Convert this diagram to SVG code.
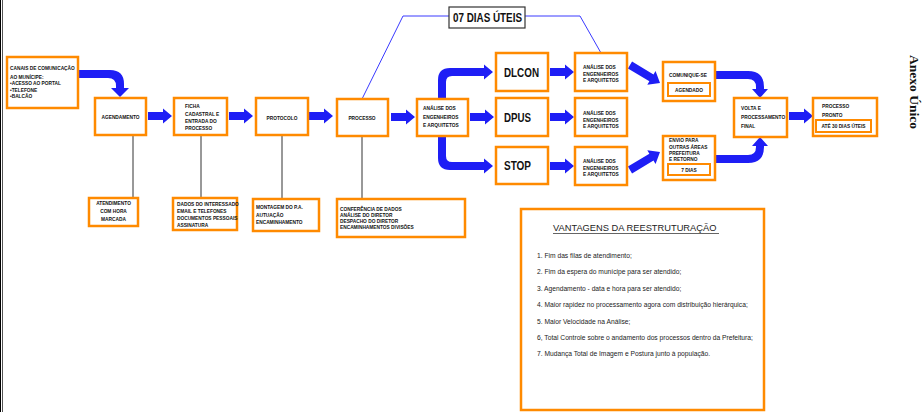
<svg xmlns="http://www.w3.org/2000/svg" xmlns:xlink="http://www.w3.org/1999/xlink" width="922" height="412" viewBox="0 0 922 412">
<style>
.box{fill:#fff;stroke:#ff8a00;stroke-width:2.5}
.ib{fill:#fff;stroke:#ff8a00;stroke-width:2}
.t{font-family:"Liberation Sans",Arial,sans-serif;font-weight:bold;font-size:4.8px;fill:#111}
.m{text-anchor:middle}
.big{font-family:"Liberation Sans",Arial,sans-serif;font-weight:bold;font-size:12px;fill:#111}
.v{font-family:"Liberation Sans",Arial,sans-serif;font-size:6.7px;fill:#222}
.arr{fill:#1e1ef5}
.ln{stroke:#333;stroke-width:1;fill:none}
.bl{stroke:#3a3aff;stroke-width:1;fill:none}
</style>
<defs>
<path id="harr" d="M0,-4 H15 V-7.5 L24,0 L15,7.5 V4 H0 Z"/>
<path id="darr" d="M0,-4 H25 V-8 L35,0 L25,8 V4 H0 Z"/>
</defs>
<rect width="922" height="412" fill="#fff"/>
<line x1="0.5" y1="0" x2="0.5" y2="412" stroke="#000" stroke-width="1"/>
<line x1="2.5" y1="0" x2="2.5" y2="412" stroke="#555" stroke-width="1"/>

<g id="connectors">
<g class="arr">
<path d="M78,70 H110 Q124,70 124,84 V88 H129 L120,97 L111,88 H116 V86 Q116,78 108,78 H78 Z"/>
<use xlink:href="#harr" x="148" y="116"/>
<use xlink:href="#harr" x="229" y="116"/>
<use xlink:href="#harr" x="309" y="116"/>
<use xlink:href="#harr" x="391" y="117"/>
<use xlink:href="#harr" x="470" y="117"/>
<path d="M438,99 V80 Q438,68 450,68 H484 V64.5 L493,72 L484,79.5 V76 H452 Q446,76 446,82 V99 Z"/>
<path d="M438,136 V158 Q438,170 450,170 H484 V173.5 L493,166 L484,158.5 V162 H452 Q446,162 446,156 V136 Z"/>
<use xlink:href="#harr" x="550" y="72"/>
<use xlink:href="#harr" x="550" y="117"/>
<use xlink:href="#harr" x="550" y="166"/>
<use xlink:href="#darr" transform="translate(630,65) rotate(31)"/>
<use xlink:href="#darr" transform="translate(630,170) rotate(-31)"/>
<path d="M715,71 H748 Q764,71 764,87 V89 H768 L760,98 L752,89 H756 V87 Q756,79 748,79 H715 Z"/>
<path d="M715,163 H748 Q764,163 764,147 V146 H768 L760,137 L752,146 H756 V147 Q756,155 748,155 H715 Z"/>
<use xlink:href="#harr" x="789" y="116"/>
</g>
<line class="ln" x1="133" y1="135" x2="133" y2="198"/>
<line class="ln" x1="201" y1="135" x2="201" y2="198"/>
<line class="ln" x1="282" y1="135" x2="282" y2="199"/>
<line class="ln" x1="362" y1="136" x2="362" y2="199"/>
<polyline class="bl" points="362,99 403,16 449,16"/>
<polyline class="bl" points="525,16 580,16 601,53"/>
</g>

<g id="canais">
<rect class="box" x="7" y="57" width="71" height="51"/>
<text class="t" x="10" y="70">CANAIS DE COMUNICAÇÃO</text>
<text class="t" x="10" y="78.5">AO MUNÍCIPE:</text>
<text class="t" x="10" y="85">•ACESSO AO PORTAL</text>
<text class="t" x="10" y="91.5">•TELEFONE</text>
<text class="t" x="10" y="98">•BALCÃO</text>
</g>

<g id="agendamento">
<rect class="box" x="95" y="98" width="51" height="37"/>
<text class="t m" x="120.5" y="118.5">AGENDAMENTO</text>
</g>

<g id="ficha">
<rect class="box" x="174" y="98" width="53" height="37"/>
<text class="t" x="185" y="108">FICHA</text>
<text class="t" x="185" y="116">CADASTRAL E</text>
<text class="t" x="185" y="123">ENTRADA DO</text>
<text class="t" x="185" y="130">PROCESSO</text>
</g>

<g id="protocolo">
<rect class="box" x="256" y="98" width="52" height="37"/>
<text class="t m" x="282" y="119.5">PROTOCOLO</text>
</g>

<g id="processo">
<rect class="box" x="337" y="99" width="51" height="37"/>
<text class="t m" x="362" y="119.5">PROCESSO</text>
</g>

<g id="analise">
<rect class="box" x="417" y="99" width="51" height="37"/>
<text class="t" x="423" y="110">ANÁLISE DOS</text>
<text class="t" x="423" y="118.5">ENGENHEIROS</text>
<text class="t" x="423" y="127">E ARQUITETOS</text>
</g>

<g id="dias07">
<rect x="449" y="7" width="76" height="21" fill="#fff" stroke="#333" stroke-width="1.2"/>
<text class="big" x="453" y="21.5" font-size="11" textLength="69" lengthAdjust="spacingAndGlyphs">07 DIAS ÚTEIS</text>
</g>

<g id="dlcon">
<rect class="box" x="496" y="53" width="52" height="38"/>
<text class="big" x="504" y="76.5" textLength="35" lengthAdjust="spacingAndGlyphs">DLCON</text>
</g>
<g id="dpus">
<rect class="box" x="496" y="98" width="52" height="38"/>
<text class="big" x="504" y="121.5" textLength="27" lengthAdjust="spacingAndGlyphs">DPUS</text>
</g>
<g id="stop">
<rect class="box" x="496" y="147" width="52" height="37"/>
<text class="big" x="504" y="170" textLength="27" lengthAdjust="spacingAndGlyphs">STOP</text>
</g>

<g id="analise1">
<rect class="box" x="575" y="53" width="52" height="38"/>
<text class="t" x="583" y="69">ANÁLISE DOS</text>
<text class="t" x="583" y="75.5">ENGENHEIROS</text>
<text class="t" x="583" y="82">E ARQUITETOS</text>
</g>
<g id="analise2">
<rect class="box" x="575" y="98" width="52" height="38"/>
<text class="t" x="583" y="115">ANÁLISE DOS</text>
<text class="t" x="583" y="121.5">ENGENHEIROS</text>
<text class="t" x="583" y="128">E ARQUITETOS</text>
</g>
<g id="analise3">
<rect class="box" x="575" y="147" width="52" height="38"/>
<text class="t" x="583" y="163">ANÁLISE DOS</text>
<text class="t" x="583" y="169.5">ENGENHEIROS</text>
<text class="t" x="583" y="176">E ARQUITETOS</text>
</g>

<g id="comunique">
<rect class="box" x="663" y="62" width="52" height="39"/>
<text class="t" x="669" y="77">COMUNIQUE-SE</text>
<rect class="ib" x="668" y="83" width="42" height="13"/>
<text class="t m" x="689" y="91.5">AGENDADO</text>
</g>

<g id="envio">
<rect class="box" x="663" y="136" width="52" height="44"/>
<text class="t" x="669" y="142">ENVIO PARA</text>
<text class="t" x="669" y="149">OUTRAS ÁREAS</text>
<text class="t" x="669" y="155">PREFEITURA</text>
<text class="t" x="669" y="161">E RETORNO</text>
<rect class="ib" x="668" y="164" width="42" height="11"/>
<text class="t m" x="689" y="171.5">7 DIAS</text>
</g>

<g id="volta">
<rect class="box" x="734" y="98" width="53" height="39"/>
<text class="t" x="741" y="110">VOLTA E</text>
<text class="t" x="741" y="119">PROCESSAMENTO</text>
<text class="t" x="741" y="128">FINAL</text>
</g>

<g id="pronto">
<rect class="box" x="813" y="98" width="64" height="38"/>
<text class="t" x="822" y="107.5" font-size="6">PROCESSO</text>
<text class="t" x="822" y="116.5" font-size="6">PRONTO</text>
<rect class="ib" x="816" y="120" width="55" height="12"/>
<text class="t m" x="843.5" y="128">ATÉ 30 DIAS ÚTEIS</text>
</g>

<g id="atendimento">
<rect class="box" x="89" y="198" width="49" height="28"/>
<text class="t m" x="113.5" y="205">ATENDIMENTO</text>
<text class="t m" x="113.5" y="213">COM HORA</text>
<text class="t m" x="113.5" y="220.5">MARCADA</text>
</g>

<g id="dados">
<rect class="box" x="173" y="198" width="64" height="32"/>
<text class="t" x="177" y="206">DADOS DO INTERESSADO</text>
<text class="t" x="177" y="213">EMAIL E TELEFONES</text>
<text class="t" x="177" y="220">DOCUMENTOS PESSOAIS</text>
<text class="t" x="177" y="227">ASSINATURA</text>
</g>

<g id="montagem">
<rect class="box" x="253" y="199" width="66" height="32"/>
<text class="t" x="256" y="209">MONTAGEM DO P.A.</text>
<text class="t" x="256" y="216.5">AUTUAÇÃO</text>
<text class="t" x="256" y="224">ENCAMINHAMENTO</text>
</g>

<g id="conferencia">
<rect class="box" x="337" y="199" width="128" height="38"/>
<text class="t" x="340" y="210.5">CONFERÊNCIA DE DADOS</text>
<text class="t" x="340" y="216.5">ANÁLISE DO DIRETOR</text>
<text class="t" x="340" y="222.5">DESPACHO DO DIRETOR</text>
<text class="t" x="340" y="228.5">ENCAMINHAMENTOS DIVISÕES</text>
</g>

<g id="anexo">
<text transform="translate(910,92) rotate(90)" text-anchor="middle" font-family="'Liberation Serif','Times New Roman',serif" font-weight="bold" font-size="13.5" fill="#111">Anexo Único</text>
</g>

<g id="vantagens">
<rect class="box" x="521" y="209" width="243" height="201" stroke-width="2"/>
<text x="553" y="231" font-family="'Liberation Sans',Arial,sans-serif" font-size="9.3" fill="#222">VANTAGENS DA REESTRUTURAÇÃO</text>
<line x1="553" y1="233.5" x2="719" y2="233.5" stroke="#222" stroke-width="0.7"/>
<text class="v" x="537" y="258">1. Fim das filas de atendimento;</text>
<text class="v" x="537" y="274.4">2. Fim da espera do munícipe para ser atendido;</text>
<text class="v" x="537" y="290.8">3. Agendamento - data e hora para ser atendido;</text>
<text class="v" x="537" y="307.2">4. Maior rapidez no processamento agora com distribuição hierárquica;</text>
<text class="v" x="537" y="323.6">5. Maior Velocidade na Análise;</text>
<text class="v" x="537" y="340">6, Total Controle sobre o andamento dos processos dentro da Prefeitura;</text>
<text class="v" x="537" y="356.4">7. Mudança Total de Imagem e Postura junto à população.</text>
</g>
</svg>
